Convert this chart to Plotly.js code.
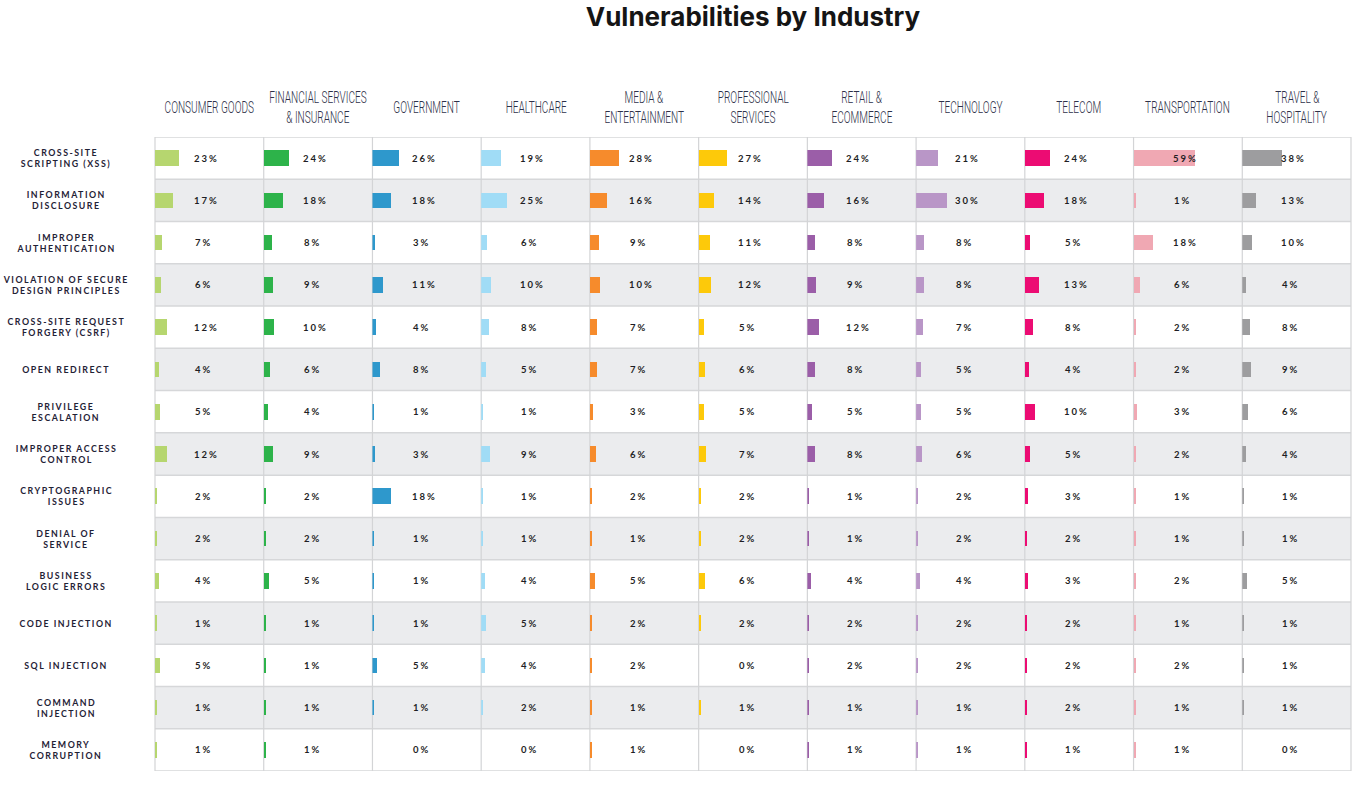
<!DOCTYPE html>
<html>
<head>
<meta charset="utf-8">
<script src="https://cdn.plot.ly/plotly-3.0.1.min.js"></script>
<style>
  html, body { margin: 0; padding: 0; background: #ffffff; }
  #chart { width: 1363px; height: 785px; }
  g.annotation text.annotation-text { letter-spacing: 2px; }
</style>
</head>
<body>
<div id="chart"></div>
<script>
// ---------- DATA ----------
const industries = [
  'CONSUMER GOODS', 'FINANCIAL SERVICES<br>& INSURANCE', 'GOVERNMENT', 'HEALTHCARE',
  'MEDIA &<br>ENTERTAINMENT', 'PROFESSIONAL<br>SERVICES', 'RETAIL &<br>ECOMMERCE',
  'TECHNOLOGY', 'TELECOM', 'TRANSPORTATION', 'TRAVEL &<br>HOSPITALITY'
];

const vulnerabilities = [
  'CROSS-SITE<br>SCRIPTING (XSS)', 'INFORMATION<br>DISCLOSURE', 'IMPROPER<br>AUTHENTICATION',
  'VIOLATION OF SECURE<br>DESIGN PRINCIPLES', 'CROSS-SITE REQUEST<br>FORGERY (CSRF)', 'OPEN REDIRECT',
  'PRIVILEGE<br>ESCALATION', 'IMPROPER ACCESS<br>CONTROL', 'CRYPTOGRAPHIC<br>ISSUES',
  'DENIAL OF<br>SERVICE', 'BUSINESS<br>LOGIC ERRORS', 'CODE INJECTION', 'SQL INJECTION',
  'COMMAND<br>INJECTION', 'MEMORY<br>CORRUPTION'
];

// values (%) per industry, in vulnerability order
const consumerGoods   = [23, 17, 7, 6, 12, 4, 5, 12, 2, 2, 4, 1, 5, 1, 1];
const financialServ   = [24, 18, 8, 9, 10, 6, 4, 9, 2, 2, 5, 1, 1, 1, 1];
const government      = [26, 18, 3, 11, 4, 8, 1, 3, 18, 1, 1, 1, 5, 1, 0];
const healthcare      = [19, 25, 6, 10, 8, 5, 1, 9, 1, 1, 4, 5, 4, 2, 0];
const mediaEntertain  = [28, 16, 9, 10, 7, 7, 3, 6, 2, 1, 5, 2, 2, 1, 1];
const professionalSrv = [27, 14, 11, 12, 5, 6, 5, 7, 2, 2, 6, 2, 0, 1, 0];
const retailEcommerce = [24, 16, 8, 9, 12, 8, 5, 8, 1, 1, 4, 2, 2, 1, 1];
const technology      = [21, 30, 8, 8, 7, 5, 5, 6, 2, 2, 4, 2, 2, 1, 1];
const telecom         = [24, 18, 5, 13, 8, 4, 10, 5, 3, 2, 3, 2, 2, 2, 1];
const transportation  = [59, 1, 18, 6, 2, 2, 3, 2, 1, 1, 2, 1, 2, 1, 1];
const travelHosp      = [38, 13, 10, 4, 8, 9, 6, 4, 1, 1, 5, 1, 1, 1, 0];

const seriesValues = [consumerGoods, financialServ, government, healthcare, mediaEntertain,
  professionalSrv, retailEcommerce, technology, telecom, transportation, travelHosp];

const colors = ['#b6d66f', '#2db34a', '#2e98cc', '#a0dcf6', '#f68b2c', '#fdc90a',
  '#9b5ea8', '#b996c7', '#ec0c73', '#f0a8b3', '#9d9d9f'];

// ---------- BUILD ----------
const nCols = industries.length;
const nRows = vulnerabilities.length;
const X_MAX = 104.5;
const LABEL_X = 38.5;
const PLOT_H = 634;

const traces = [];
const annotations = [];
const layout = {
  width: 1363, height: 785,
  margin: {l: 155, r: 12, t: 137, b: 14},
  paper_bgcolor: '#ffffff',
  plot_bgcolor: 'rgba(0,0,0,0)',
  showlegend: false,
  bargap: 0,
  title: {
    text: 'Vulnerabilities by Industry',
    font: {family: 'Inter, Lato, sans-serif', size: 26, weight: 700, color: '#151515'},
    x: 0.5, xref: 'paper', xanchor: 'center',
    y: 0.978, yref: 'container', yanchor: 'middle'
  },
  yaxis: {
    type: 'category', range: [nRows - 0.5, -0.5], anchor: 'x',
    showticklabels: false, showgrid: false, zeroline: false, showline: false,
    ticks: '', fixedrange: true
  },
  shapes: [],
  annotations: annotations
};

// header annotations first, one per line
industries.forEach((name, k) => {
  const lines = name.split('<br>');
  lines.forEach((ln, j) => {
    const offPx = 29.5 - (j - (lines.length - 1) / 2) * 20;
    annotations.push({
      text: ln, xref: 'paper', yref: 'paper',
      x: (k + 0.5) / nCols, y: 1 + offPx / PLOT_H,
      xanchor: 'center', yanchor: 'middle', align: 'center', showarrow: false,
      font: {family: 'Roboto, "Liberation Sans", sans-serif', size: 16.5, weight: 300, color: '#2d3048'}
    });
  });
});
const headerCount = annotations.length;

// row labels
vulnerabilities.forEach((name) => {
  annotations.push({
    text: name, xref: 'paper', yref: 'y',
    x: -89 / 1196, y: name,
    xanchor: 'center', yanchor: 'middle', align: 'center', showarrow: false,
    font: {family: 'Lato, sans-serif', size: 8.8, weight: 700, color: '#1f2236'}
  });
});

seriesValues.forEach((vals, k) => {
  const xa = k === 0 ? 'x' : 'x' + (k + 1);
  const xaKey = k === 0 ? 'xaxis' : 'xaxis' + (k + 1);
  layout[xaKey] = {
    domain: [k / nCols, (k + 1) / nCols], range: [0, X_MAX], anchor: 'y',
    showticklabels: false, showgrid: false, zeroline: false, showline: false,
    ticks: '', fixedrange: true
  };
  traces.push({
    type: 'bar', orientation: 'h',
    x: vals, y: vulnerabilities,
    xaxis: xa, yaxis: 'y',
    width: 0.37,
    marker: {color: colors[k], line: {width: 0}},
    hovertemplate: industries[k].replace('<br>', ' ') + '<br>%{y}: %{x}%<extra></extra>'
  });
  vals.forEach((v, i) => {
    annotations.push({
      text: v + '%', xref: xa, yref: 'y',
      x: LABEL_X, y: vulnerabilities[i],
      xanchor: 'left', yanchor: 'middle', showarrow: false,
      font: {family: 'Lato, sans-serif', size: 9.5, weight: 700, color: '#1e1e24'}
    });
  });
});

// row bands
for (let i = 0; i < nRows; i++) {
  if (i % 2 === 1) {
    layout.shapes.push({
      type: 'rect', layer: 'below', xref: 'paper', yref: 'y',
      x0: 0, x1: 1, y0: i - 0.5, y1: i + 0.5,
      fillcolor: '#ebecee', line: {width: 0}
    });
  }
}
// horizontal lines
for (let i = 0; i <= nRows; i++) {
  layout.shapes.push({
    type: 'line', layer: 'below', xref: 'paper', yref: 'y',
    x0: 0, x1: 1, y0: i - 0.5, y1: i - 0.5,
    line: {color: '#d6d7d9', width: 1.5}
  });
}
// vertical lines
for (let k = 0; k <= nCols; k++) {
  layout.shapes.push({
    type: 'line', layer: 'below', xref: 'paper', yref: 'paper',
    x0: k / nCols, x1: k / nCols, y0: 0, y1: 1,
    line: {color: '#d3d4d6', width: 1.2}
  });
}

// per-annotation text styling: condensed headers, spaced row labels
const st = document.createElement('style');
let css = '';
for (let k = 0; k < headerCount; k++) {
  css += 'g.annotation[data-index="' + k + '"] text.annotation-text{letter-spacing:0px;' +
         'transform-box:fill-box;transform-origin:center;transform:scaleX(0.61);}';
}
for (let r = 0; r < nRows; r++) {
  css += 'g.annotation[data-index="' + (headerCount + r) + '"] text.annotation-text{letter-spacing:1.5px;}';
}
st.textContent = css;
document.head.appendChild(st);

Plotly.newPlot('chart', traces, layout, {displayModeBar: false, responsive: false});
</script>
</body>
</html>
